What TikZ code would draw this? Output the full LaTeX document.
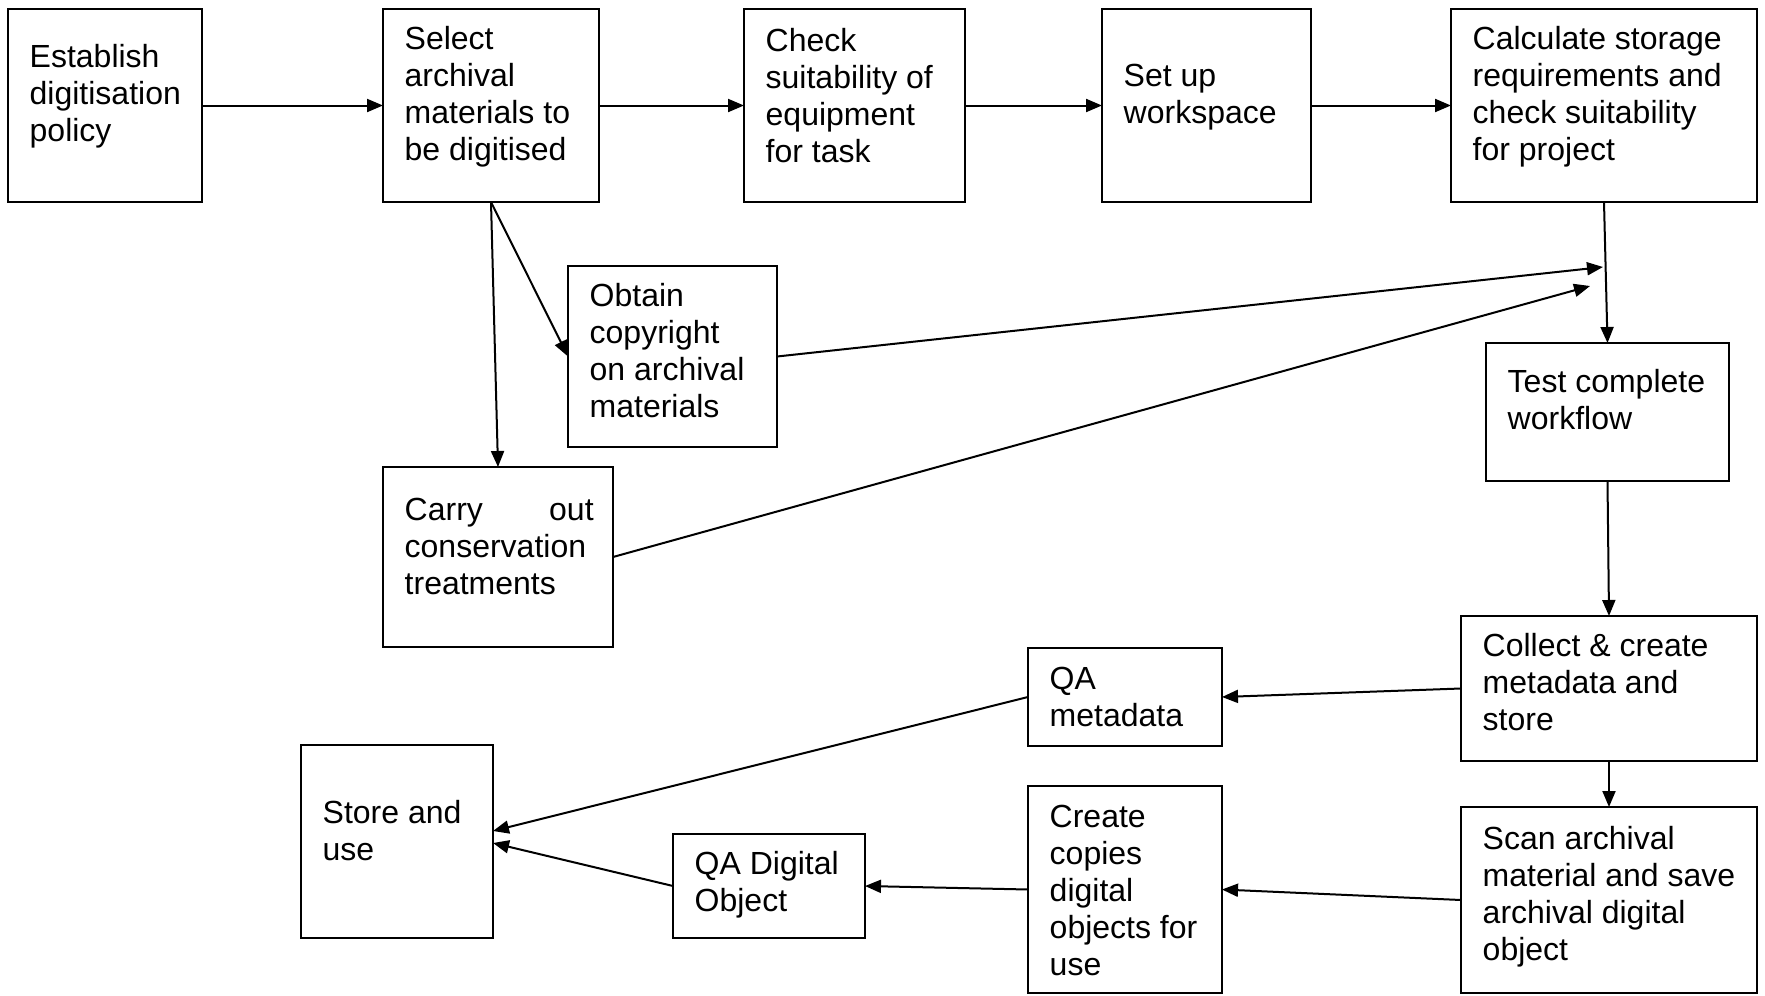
\documentclass[tikz,border=0pt]{standalone}
\usepackage{fontspec}
\setmainfont{Liberation Sans}
\usetikzlibrary{arrows.meta}
\begin{document}
\begin{tikzpicture}[x=1pt,y=-1pt,
  box/.style={draw, line width=1.8pt, inner sep=0pt, outer sep=0pt},
  lbl/.style={anchor=west, inner sep=0pt, align=left, font=\fontsize{32}{37}\selectfont},
  flow/.style={line width=2pt, -{Triangle[length=16pt,width=13pt]}}]
\useasboundingbox (0,0) rectangle (1765,996);

% process boxes
\node[box, minimum width=194pt, minimum height=193pt] (est)  at (105,105.5) {};
\node[box, minimum width=216pt, minimum height=193pt] (sel)  at (491,105.5) {};
\node[box, minimum width=221pt, minimum height=193pt] (chk)  at (854.5,105.5) {};
\node[box, minimum width=209pt, minimum height=193pt] (set)  at (1206.5,105.5) {};
\node[box, minimum width=306pt, minimum height=193pt] (calc) at (1604,105.5) {};
\node[box, minimum width=209pt, minimum height=181pt] (obt)  at (672.5,356.5) {};
\node[box, minimum width=230pt, minimum height=180pt] (car)  at (498,557) {};
\node[box, minimum width=243pt, minimum height=138pt] (test) at (1607.5,412) {};
\node[box, minimum width=296pt, minimum height=145pt] (col)  at (1609,688.5) {};
\node[box, minimum width=296pt, minimum height=186pt] (scan) at (1609,900) {};
\node[box, minimum width=194pt, minimum height=98pt]  (qam)  at (1125,697) {};
\node[box, minimum width=194pt, minimum height=207pt] (cre)  at (1125,889.5) {};
\node[box, minimum width=192pt, minimum height=104pt] (qad)  at (769,886) {};
\node[box, minimum width=192pt, minimum height=193pt] (sto)  at (397,841.5) {};

% box texts
\node[lbl] (t-est)  at (29.5,96)    {Establish\\digitisation\\policy};
\node[lbl] (t-sel)  at (404.5,96.5) {Select\\archival\\materials to\\be digitised};
\node[lbl] (t-chk)  at (765.5,95.5) {Check\\suitability of\\equipment\\for task};
\node[lbl] (t-set)  at (1123.5,97.5) {Set up\\workspace};
\node[lbl] (t-calc) at (1472.5,97)  {Calculate storage\\requirements and\\check suitability\\for project};
\node[lbl] (t-obt)  at (589.5,351)  {Obtain\\copyright\\on archival\\materials};
\node[lbl] (t-car)  at (404.5,546)  {\hbox to 189pt{Carry\hfill out}\\conservation\\treatments};
\node[lbl] (t-test) at (1507.5,400) {Test complete\\workflow};
\node[lbl] (t-col)  at (1482.5,682.5) {Collect \& create\\metadata and\\store};
\node[lbl] (t-scan) at (1482.5,897) {Scan archival\\material and save\\archival digital\\object};
\node[lbl] (t-qam)  at (1049.5,697) {QA\\metadata};
\node[lbl] (t-cre)  at (1049.5,890.5) {Create\\copies\\digital\\objects for\\use};
\node[lbl] (t-qad)  at (694.5,885) {QA Digital\\Object};
\node[lbl] (t-sto)  at (322.5,830.5) {Store and\\use};

% free ends of the two feeds into the calculate/test link
\coordinate (j1) at (1603,267);
\coordinate (j2) at (1590,286);

% connectors
\draw[flow] (est.east) -- (sel.west);
\draw[flow] (sel.east) -- (chk.west);
\draw[flow] (chk.east) -- (set.west);
\draw[flow] (set.east) -- (calc.west);
\draw[flow] (sel.south) -- (car.north);
\draw[flow] (sel.south) -- (obt.west);
\draw[flow] (obt.east) -- (j1);
\draw[flow] (car.east) -- (j2);
\draw[flow] (calc.south) -- (test.north);
\draw[flow] (test.south) -- (col.north);
\draw[flow] (col.south) -- (scan.north);
\draw[flow] (col.west) -- (qam.east);
\draw[flow] (qam.west) -- ([yshift=10.5pt]sto.east);
\draw[flow] (scan.west) -- (cre.east);
\draw[flow] (cre.west) -- (qad.east);
\draw[flow] (qad.west) -- ([yshift=-1.5pt]sto.east);
\end{tikzpicture}
\end{document}
